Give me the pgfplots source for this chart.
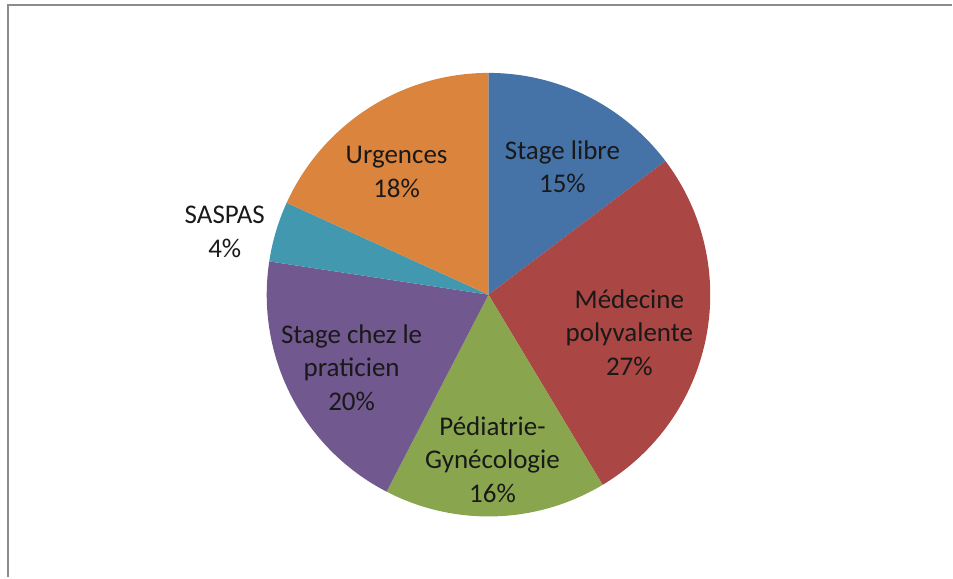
\documentclass[border=0pt]{standalone}
\usepackage{pgfplots}
\pgfplotsset{compat=1.18}
\usepackage{fontspec}
\setmainfont{Carlito}
\definecolor{cBlue}{HTML}{4572A7}
\definecolor{cRed}{HTML}{AA4643}
\definecolor{cGreen}{HTML}{89A54E}
\definecolor{cPurple}{HTML}{71588F}
\definecolor{cTeal}{HTML}{4198AF}
\definecolor{cOrange}{HTML}{DB843D}
\definecolor{cFrame}{HTML}{8C8C8C}
\begin{document}
\begin{tikzpicture}
\begin{axis}[
  width=953pt, height=578pt, scale only axis,
  xmin=0, xmax=953, ymin=0, ymax=578,
  hide axis, clip=false,
]
\path (axis cs:0,0) rectangle (axis cs:953,578);
\draw[cFrame, line width=2pt] (axis cs:953,572.5) -- (axis cs:8.5,572.5) -- (axis cs:8.5,0);
% slices: cumulative shares 0, 14.7, 41.4, 57.6, 77.4, 81.8, 100 (angle = 90 - 3.6*share)
\fill[cBlue]   (axis cs:489,283) -- ++(90:222pt) arc[start angle=90, end angle=37.08, radius=222pt] -- cycle;
\fill[cRed]    (axis cs:489,283) -- ++(37.08:222pt) arc[start angle=37.08, end angle=-59.04, radius=222pt] -- cycle;
\fill[cGreen]  (axis cs:489,283) -- ++(-59.04:222pt) arc[start angle=-59.04, end angle=-117.36, radius=222pt] -- cycle;
\fill[cPurple] (axis cs:489,283) -- ++(-117.36:222pt) arc[start angle=-117.36, end angle=-188.64, radius=222pt] -- cycle;
\fill[cTeal]   (axis cs:489,283) -- ++(-188.64:222pt) arc[start angle=-188.64, end angle=-204.48, radius=222pt] -- cycle;
\fill[cOrange] (axis cs:489,283) -- ++(-204.48:222pt) arc[start angle=-204.48, end angle=-270, radius=222pt] -- cycle;
\begin{scope}[every node/.style={align=center, inner sep=0pt, text=black!90, font=\fontsize{27}{33.5}\selectfont}]
\node at (axis cs:563,411) {Stage libre\\15\%};
\node at (axis cs:630,245) {Médecine\\polyvalente\\27\%};
\node at (axis cs:493,118) {Pédiatrie-\\Gynécologie\\16\%};
\node at (axis cs:352,210) {Stage chez le\\praticien\\20\%};
\node at (axis cs:225,346) {SASPAS\\4\%};
\node at (axis cs:397,406) {Urgences\\18\%};
\end{scope}
\end{axis}
\end{tikzpicture}
\end{document}
